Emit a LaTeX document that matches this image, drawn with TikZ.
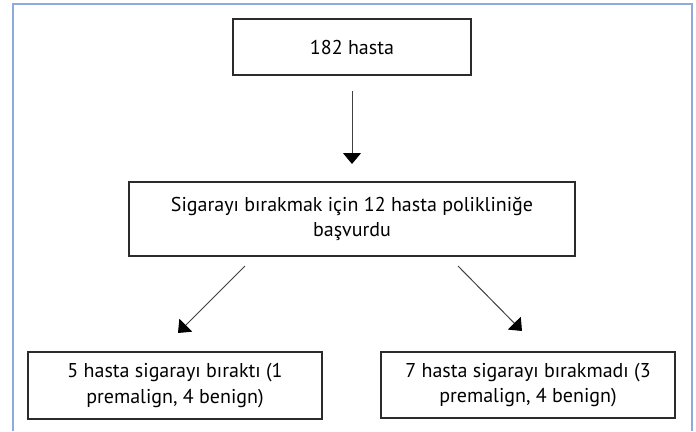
\documentclass[tikz,border=0pt]{standalone}
\usepackage{fontspec}
\setmainfont{PT Sans}
\usetikzlibrary{arrows.meta}
\definecolor{framecol}{HTML}{8FAADC}
\definecolor{boxcol}{HTML}{2B2B2B}
\begin{document}
\begin{tikzpicture}[x=1pt,y=-1pt,
  box/.style={draw=boxcol,line width=1.1pt,rectangle,align=center,inner sep=0pt,font=\fontsize{20}{25.5}\selectfont},
  arr/.style={draw=black!75,line width=1pt,-{Triangle[length=11pt,width=18pt,color=black]}}]
\useasboundingbox (0,0) rectangle (696,431);
\draw[framecol,line width=1.6pt] (13,431) -- (13,4) -- (692,4) -- (692,431);
\node[box,minimum width=238pt,minimum height=56pt] (top) at (352,47) {182 hasta};
\node[box,minimum width=446pt,minimum height=74pt] (mid) at (352,219) {Sigarayı bırakmak için 12 hasta polikliniğe\\başvurdu};
\node[box,minimum width=294pt,minimum height=67pt] (left) at (175,385.5) {5 hasta sigarayı bıraktı (1\\premalign, 4 benign)};
\node[box,minimum width=294pt,minimum height=66pt] (right) at (528,385) {7 hasta sigarayı bırakmadı (3\\premalign, 4 benign)};
\coordinate (a1s) at (352,91);
\coordinate (a1e) at (352,164);
\coordinate (a2s) at (245,266);
\coordinate (a2e) at (178,333);
\coordinate (a3s) at (458,266);
\coordinate (a3e) at (522,331);
\draw[arr] (a1s) -- (a1e);
\draw[arr] (a2s) -- (a2e);
\draw[arr] (a3s) -- (a3e);
\end{tikzpicture}
\end{document}
